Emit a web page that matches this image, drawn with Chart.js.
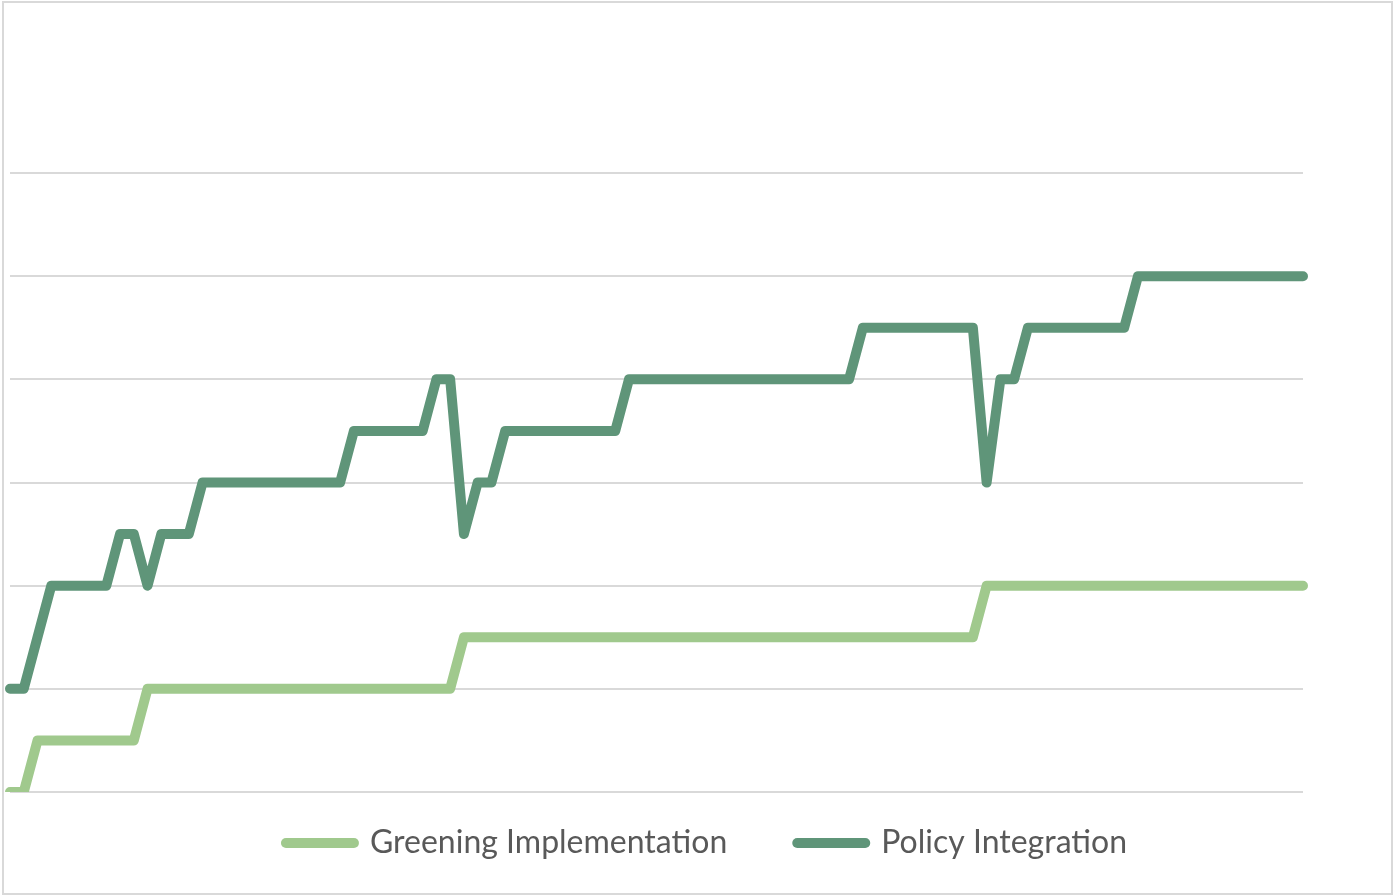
<!DOCTYPE html>
<html>
<head>
<meta charset="utf-8">
<script src="https://cdn.jsdelivr.net/npm/chart.js@4.4.1/dist/chart.umd.min.js"></script>
<style>
  body { margin: 0; background: #fff; }
  #frame { position: absolute; left: 2px; top: 1px; width: 1387px; height: 890px; border: 2px solid #d9d9d9; }
</style>
</head>
<body>
<div id="frame"><canvas id="chart"></canvas></div>
<script>
// one category per reporting step (labels are not shown on the chart)
const periods = Array.from({length: 95}, (_, i) => 'P' + (i + 1))

const seriesNames = ['Greening Implementation', 'Policy Integration']

const greening = [
  0, 0, 0.5, 0.5, 0.5, 0.5, 0.5, 0.5, 0.5, 0.5,
  1, 1, 1, 1, 1, 1, 1, 1, 1, 1,
  1, 1, 1, 1, 1, 1, 1, 1, 1, 1,
  1, 1, 1, 1.5, 1.5, 1.5, 1.5, 1.5, 1.5, 1.5,
  1.5, 1.5, 1.5, 1.5, 1.5, 1.5, 1.5, 1.5, 1.5, 1.5,
  1.5, 1.5, 1.5, 1.5, 1.5, 1.5, 1.5, 1.5, 1.5, 1.5,
  1.5, 1.5, 1.5, 1.5, 1.5, 1.5, 1.5, 1.5, 1.5, 1.5,
  1.5, 2, 2, 2, 2, 2, 2, 2, 2, 2,
  2, 2, 2, 2, 2, 2, 2, 2, 2, 2,
  2, 2, 2, 2, 2
]

const policy = [
  1, 1, 1.5, 2, 2, 2, 2, 2, 2.5, 2.5,
  2, 2.5, 2.5, 2.5, 3, 3, 3, 3, 3, 3,
  3, 3, 3, 3, 3, 3.5, 3.5, 3.5, 3.5, 3.5,
  3.5, 4, 4, 2.5, 3, 3, 3.5, 3.5, 3.5, 3.5,
  3.5, 3.5, 3.5, 3.5, 3.5, 4, 4, 4, 4, 4,
  4, 4, 4, 4, 4, 4, 4, 4, 4, 4,
  4, 4, 4.5, 4.5, 4.5, 4.5, 4.5, 4.5, 4.5, 4.5,
  4.5, 3, 4, 4, 4.5, 4.5, 4.5, 4.5, 4.5, 4.5,
  4.5, 4.5, 5, 5, 5, 5, 5, 5, 5, 5,
  5, 5, 5, 5, 5
]

const yMin = 0
const yMax = 6
const yStep = 1

const legendFont = 32
const legendGap = 70
const lineW = 10

// plot bottom sits at 789 in the canvas, legend text centre at 840
const bottomPad = 890 - 789 - (legendFont + legendGap + 10)
const legendDy = 840 - (789 + legendGap + legendFont / 2)

// move the legend up/right after layout (labels.padding also sets the gap between items)
const legendShift = {
  id: 'legendShift',
  afterLayout(chart) {
    let lg = chart.legend
    lg.top += legendDy; lg.bottom += legendDy
    lg.left += 50; lg.right += 50
  }
}

let ctx = document.getElementById('chart').getContext('2d')
let myChart = new Chart(ctx, {
  type: 'line',
  data: {
    labels: periods,
    datasets: [{
      label: seriesNames[0],
      data: greening,
      borderColor: '#a0c98d',
      backgroundColor: '#a0c98d',
      borderWidth: lineW,
      borderCapStyle: 'round',
      borderJoinStyle: 'round',
      pointRadius: 0,
      tension: 0,
      fill: false
    },
    {
      label: seriesNames[1],
      data: policy,
      borderColor: '#5f9579',
      backgroundColor: '#5f9579',
      borderWidth: lineW,
      borderCapStyle: 'round',
      borderJoinStyle: 'round',
      pointRadius: 0,
      tension: 0,
      fill: false
    }]
  },
  options: {
    responsive: true,
    maintainAspectRatio: false,
    animation: false,
    layout: { padding: { left: 6, right: 88, top: 170, bottom: bottomPad } },
    scales: {
      x: { display: false, offset: false },
      y: {
        min: yMin, max: yMax,
        ticks: { display: false, stepSize: yStep },
        border: { display: false },
        grid: { color: '#d9d9d9', lineWidth: 2, drawTicks: false }
      }
    },
    plugins: {
      tooltip: { enabled: false },
      legend: {
        position: 'bottom',
        labels: {
          usePointStyle: true,
          pointStyle: 'line',
          pointStyleWidth: 68,
          boxHeight: 8,
          padding: legendGap,
          color: '#595959',
          font: { family: 'Lato', size: legendFont },
          generateLabels(chart) {
            let items = Chart.defaults.plugins.legend.labels.generateLabels(chart)
            items.forEach(it => { it.lineCap = 'round'; it.lineWidth = lineW })
            return items
          }
        }
      }
    }
  },
  plugins: [legendShift]
})
</script>
</body>
</html>
